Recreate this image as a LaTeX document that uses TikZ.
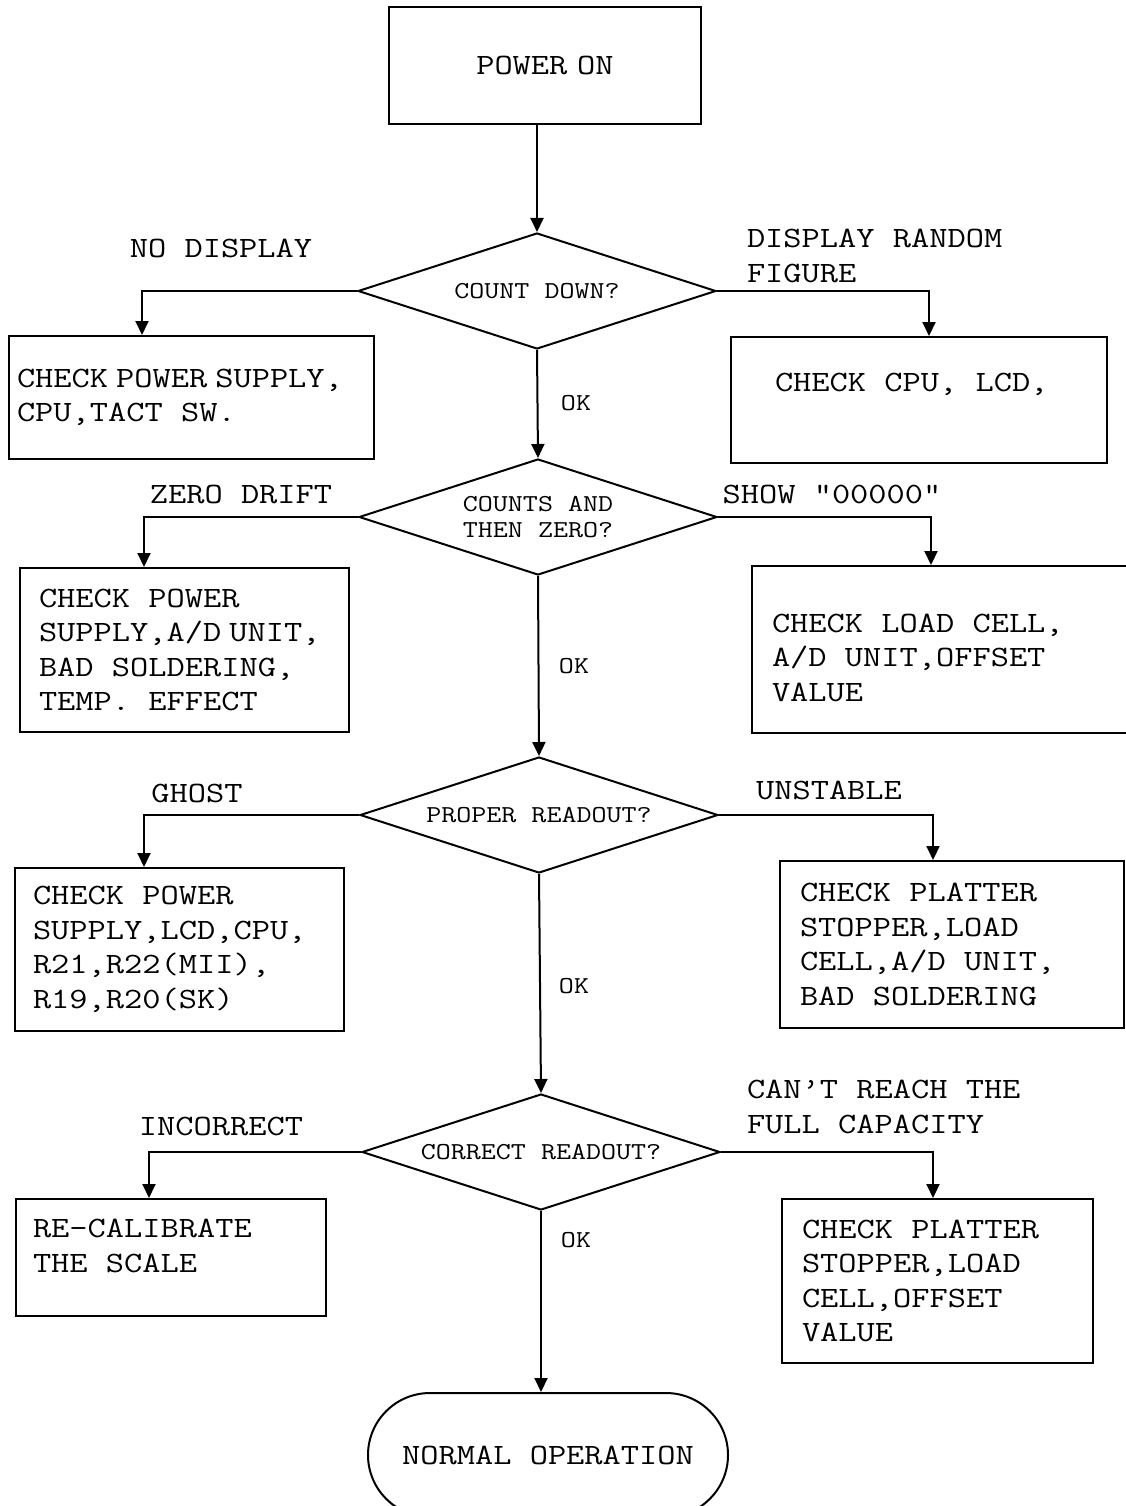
\documentclass[tikz,border=0pt]{standalone}
\usepackage{fontspec}
\setmonofont{Latin Modern Mono}[FakeStretch=1.2]
\frenchspacing
\usetikzlibrary{arrows.meta,shapes.geometric,shapes.misc}
\newcommand{\narrowsp}{\hspace{8pt}}

\begin{document}
\begin{tikzpicture}[x=1pt,y=-1pt,line width=2pt,
  big/.style={font=\ttfamily\fontsize{29.5}{34.5}\selectfont},
  small/.style={font=\ttfamily\fontsize{24.3}{26}\selectfont},
  box/.style={draw,rectangle,big,align=flush left,inner ysep=0pt},
  ask/.style={draw,diamond,small,align=center,inner sep=0pt,aspect=3.09,minimum width=358pt,minimum height=116pt},
  flow/.style={-{Triangle[length=14pt,width=13pt]}},
  lbl/.style={big,anchor=base,inner sep=0pt},
  ok/.style={small,inner sep=0pt}]
\useasboundingbox (0,0) rectangle (1125,1506);
\node[box,minimum height=117pt,text width=312pt,inner xsep=0pt,align=center] (pwr) at (545,65.5) {POWER ON};
\node[ask] (d1) at (537,291) {COUNT DOWN?};
\node[box,minimum height=123pt,text width=349pt,inner xsep=8pt] (l1) at (191.5,397.5) {CHECK\narrowsp POWER\narrowsp SUPPLY,\\CPU,TACT SW.};
\node[box,minimum height=126pt,text width=288pt,inner xsep=44pt] (r1) at (919,400) {CHECK CPU, LCD,\\\mbox{}};
\node[ask] (d2) at (538,517) {COUNTS AND\\THEN ZERO?};
\node[box,minimum height=164pt,text width=291pt,inner xsep=19pt] (l2) at (184.5,650) {CHECK POWER\\SUPPLY,A/D\narrowsp UNIT,\\BAD SOLDERING,\\TEMP. EFFECT};
\node[box,minimum height=167pt,text width=338pt,inner xsep=20pt] (r2) at (941,649.5) {\mbox{}\\CHECK LOAD CELL,\\A/D UNIT,OFFSET\\VALUE};
\node[ask] (d3) at (539,815) {PROPER READOUT?};
\node[box,minimum height=163pt,text width=293pt,inner xsep=18pt] (l3) at (179.5,949.5) {CHECK POWER\\SUPPLY,LCD,CPU,\\R21,R22(MII),\\R19,R20(SK)};
\node[box,minimum height=167pt,text width=304pt,inner xsep=20pt] (r3) at (952,944.5) {CHECK PLATTER\\STOPPER,LOAD\\CELL,A/D UNIT,\\BAD SOLDERING};
\node[ask] (d4) at (541,1152) {CORRECT READOUT?};
\node[box,minimum height=117pt,text width=276pt,inner xsep=17pt] (l4) at (171,1257.5) {RE-CALIBRATE\\THE SCALE\\[-11pt]\mbox{}};
\node[box,minimum height=164pt,text width=271pt,inner xsep=20pt] (r4) at (937.5,1281) {CHECK PLATTER\\STOPPER,LOAD\\CELL,OFFSET\\VALUE};
\node[draw,rounded rectangle,big,minimum width=360pt,minimum height=124pt,inner sep=0pt] (fin) at (548,1455) {NORMAL OPERATION};
\node[lbl] (nodisp) at (221,258) {NO DISPLAY};
\node[lbl,anchor=base west,align=left] (random) at (746,282) {DISPLAY RANDOM\\FIGURE};
\node[lbl] (drift) at (241,503) {ZERO DRIFT};
\node[lbl] (zeros) at (832,503) {SHOW “00000”};
\node[lbl] (ghost) at (197,802) {GHOST};
\node[lbl] (unstable) at (829,799) {UNSTABLE};
\node[lbl] (incorrect) at (221,1135) {INCORRECT};
\node[lbl,anchor=base west,align=left] (full) at (746,1133) {CAN’T REACH THE\\FULL CAPACITY};
\node[ok] (ok1) at (576,403) {OK};
\node[ok] (ok2) at (574,666) {OK};
\node[ok] (ok3) at (574,986) {OK};
\node[ok] (ok4) at (576,1240) {OK};
\draw[flow] (d1.north |- pwr.south) -- (d1.north);
\draw[flow] (d1.south) -- (d2.north);
\draw[flow] (d2.south) -- (d3.north);
\draw[flow] (d3.south) -- (d4.north);
\draw[flow] (d4.south) -- (d4.south |- fin.north);
\draw[flow] (d1.west) -| ([xshift=134pt]l1.north west);
\draw[flow] (d1.east) -| ([xshift=199pt]r1.north west);
\draw[flow] (d2.west) -| ([xshift=125pt]l2.north west);
\draw[flow] (d2.east) -| ([xshift=180pt]r2.north west);
\draw[flow] (d3.west) -| ([xshift=130pt]l3.north west);
\draw[flow] (d3.east) -| ([xshift=154pt]r3.north west);
\draw[flow] (d4.west) -| ([xshift=134pt]l4.north west);
\draw[flow] (d4.east) -| ([xshift=152pt]r4.north west);
\end{tikzpicture}
\end{document}
